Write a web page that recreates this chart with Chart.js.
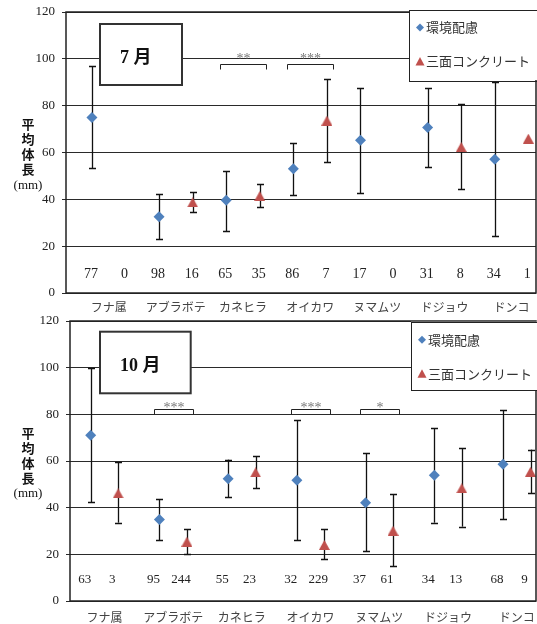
<!DOCTYPE html>
<html><head><meta charset="utf-8">
<script src="https://cdn.jsdelivr.net/npm/chart.js@4"></script>
<style>
html,body{margin:0;padding:0;background:#fff;}
#wrap{position:relative;width:537px;height:624px;overflow:hidden;background:#fff;}
canvas{position:absolute;left:0;}
#c1{top:0}
#c2{top:312px}
</style></head><body>
<div id="wrap"><canvas id="c1" width="537" height="312"></canvas><canvas id="c2" width="537" height="312"></canvas></div>
<script>
// ---------- data ----------
const CATEGORIES = ['フナ属','アブラボテ','カネヒラ','オイカワ','ヌマムツ','ドジョウ','ドンコ'];
const SERIES = ['環境配慮','三面コンクリート'];
const Y_TICKS = [0,20,40,60,80,100,120];
const Y_LABEL = ['平','均','体','長'];
const Y_UNIT = '(mm)';

const JUL_TITLE = '7 月';
const JUL_ENV_MEAN = [75.0, 32.6, 39.6, 53.1, 65.2, 70.7, 57.1];
const JUL_ENV_HIGH = [96.8, 42.3, 52.1, 64.2, 87.7, 87.7, 90.2];
const JUL_ENV_LOW  = [53.5, 23.2, 26.6, 41.7, 42.6, 53.9, 24.3];
const JUL_ENV_N    = [77, 98, 65, 86, 17, 31, 34];
const JUL_CON_MEAN = [null, 38.7, 41.4, 73.6, null, 62.3, 65.9];
const JUL_CON_HIGH = [null, 43.0, 46.6, 91.5, null, 80.7, null];
const JUL_CON_LOW  = [null, 34.5, 36.6, 55.9, null, 44.3, null];
const JUL_CON_N    = [0, 16, 35, 7, 0, 8, 1];
const JUL_SIG_CAT   = [2, 3];
const JUL_SIG_MARK  = ['**', '***'];
const JUL_SIG_LEVEL = [97.6, 97.6];

const OCT_TITLE = '10 月';
const OCT_ENV_MEAN = [71.0, 34.9, 52.4, 51.7, 42.1, 53.9, 58.6];
const OCT_ENV_HIGH = [100.0, 43.6, 60.6, 77.7, 63.3, 74.3, 81.7];
const OCT_ENV_LOW  = [42.3, 26.3, 44.4, 26.0, 21.4, 33.6, 35.0];
const OCT_ENV_N    = [63, 95, 55, 32, 37, 34, 68];
const OCT_CON_MEAN = [46.1, 25.4, 55.1, 24.0, 30.1, 48.3, 55.4];
const OCT_CON_HIGH = [59.4, 31.0, 62.1, 30.7, 45.7, 65.4, 64.9];
const OCT_CON_LOW  = [33.6, 20.1, 48.4, 17.9, 14.9, 31.9, 46.4];
const OCT_CON_N    = [3, 244, 23, 229, 61, 13, 9];
const OCT_SIG_CAT   = [1, 3, 4];
const OCT_SIG_MARK  = ['***', '***', '*'];
const OCT_SIG_LEVEL = [82.3, 82.3, 82.3];

// ---------- style ----------
const BLUE = '#4F81BD', RED = '#C0504D';
const SERIF = '"Liberation Serif", "Times New Roman", serif';
const JP = '"Noto Sans CJK JP", sans-serif';

function triangleImage(w, h, color){
  const c = document.createElement('canvas'); c.width = w; c.height = h;
  const g = c.getContext('2d'); g.fillStyle = color;
  g.beginPath(); g.moveTo(w/2, 0); g.lineTo(w, h); g.lineTo(0, h); g.closePath(); g.fill();
  return c;
}

function series(mean, hi, lo, off){
  return CATEGORIES.map((c,i)=>({x: i + off, y: mean[i], hi: hi[i], lo: lo[i]})).filter(p => p.y != null);
}

const plotPlugin = {
  id: 'plotExtras',
  beforeDatasetsDraw(chart){
    const {ctx, scales:{y}} = chart;
    ctx.save();
    ctx.strokeStyle = '#111'; ctx.lineWidth = 1.3;
    chart.data.datasets.forEach((ds, di) => {
      const meta = chart.getDatasetMeta(di);
      meta.data.forEach((el, i) => {
        const p = ds.data[i];
        if (p.hi == null || p.lo == null) return;
        const x = Math.round(el.x) + 0.5;
        const yh = y.getPixelForValue(p.hi), yl = y.getPixelForValue(p.lo);
        ctx.beginPath();
        ctx.moveTo(x, yh); ctx.lineTo(x, yl);
        ctx.moveTo(x - 3.5, Math.round(yh) + 0.5); ctx.lineTo(x + 3.5, Math.round(yh) + 0.5);
        ctx.moveTo(x - 3.5, Math.round(yl) + 0.5); ctx.lineTo(x + 3.5, Math.round(yl) + 0.5);
        ctx.stroke();
      });
    });
    ctx.restore();
  },
  afterDraw(chart){
    const {ctx, chartArea:a, scales:{x, y}} = chart;
    const o = chart.options.plugins.plotExtras;
    ctx.save();
    // plot border
    ctx.strokeStyle = '#222'; ctx.lineWidth = 1.5;
    ctx.strokeRect(a.left, a.top, a.right - a.left, a.bottom - a.top);

    // sample counts
    ctx.fillStyle = '#222'; ctx.font = o.countSize + 'px ' + SERIF;
    ctx.textAlign = 'center'; ctx.textBaseline = 'middle';
    o.counts.forEach((arr, si) => {
      arr.forEach((n, i) => {
        ctx.fillText(String(n), x.getPixelForValue(i + o.offsets[si]) + o.countDx, y.getPixelForValue(o.countY));
      });
    });

    // significance brackets
    o.sigCat.forEach((c, k) => {
      const xl = Math.round(x.getPixelForValue(c - o.sigHalf)) + 0.5;
      const xr = Math.round(x.getPixelForValue(c + o.sigHalf)) + 0.5;
      const yy = Math.round(y.getPixelForValue(o.sigLevel[k])) + 0.5;
      ctx.strokeStyle = '#222'; ctx.lineWidth = 1;
      ctx.beginPath();
      ctx.moveTo(xl, yy + o.legLen); ctx.lineTo(xl, yy); ctx.lineTo(xr, yy); ctx.lineTo(xr, yy + o.legLen);
      ctx.stroke();
      ctx.fillStyle = '#777'; ctx.font = '14px ' + SERIF;
      ctx.textAlign = 'center'; ctx.textBaseline = 'alphabetic';
      ctx.fillText(o.sigMark[k], (xl + xr) / 2, yy - o.starGap + 7);
    });

    // y-axis title (stacked)
    const cy = (a.top + a.bottom) / 2 + 2;
    const pitch = 15;
    const startY = cy - pitch * 2;
    ctx.fillStyle = '#111'; ctx.textAlign = 'center'; ctx.textBaseline = 'middle';
    ctx.font = 'bold 13px ' + JP;
    Y_LABEL.forEach((ch, i) => ctx.fillText(ch, 28, startY + i * pitch));
    ctx.font = '13px ' + SERIF;
    ctx.fillText(Y_UNIT, 28, startY + 4 * pitch + 1);

    // title box
    const tb = o.titleBox;
    ctx.fillStyle = '#fff'; ctx.fillRect(tb[0], tb[1], tb[2] - tb[0], tb[3] - tb[1]);
    ctx.strokeStyle = '#333'; ctx.lineWidth = 2;
    ctx.strokeRect(tb[0], tb[1], tb[2] - tb[0], tb[3] - tb[1]);
    ctx.fillStyle = '#111'; ctx.font = 'bold 18px ' + SERIF + ', ' + JP;
    ctx.textAlign = 'left'; ctx.textBaseline = 'middle';
    ctx.fillText(o.title, tb[0] + 20, (tb[1] + tb[3]) / 2 + 3.5);

    // legend box
    const lb = o.legendBox;
    ctx.fillStyle = '#fff'; ctx.fillRect(lb[0], lb[1], 600 - lb[0], lb[2] - lb[1]);
    ctx.strokeStyle = '#222'; ctx.lineWidth = 1;
    ctx.strokeRect(Math.round(lb[0]) + 0.5, Math.round(lb[1]) + 0.5, 600, Math.round(lb[2] - lb[1]));
    const rows = [lb[1] + 18, lb[1] + 52];
    chart.data.datasets.forEach((ds, di) => {
      const mx = lb[0] + 11, my = rows[di];
      ctx.fillStyle = ds.backgroundColor;
      ctx.beginPath();
      if (di === 0) { ctx.moveTo(mx, my - 4); ctx.lineTo(mx + 4, my); ctx.lineTo(mx, my + 4); ctx.lineTo(mx - 4, my); }
      else { ctx.moveTo(mx, my - 4.5); ctx.lineTo(mx + 4.5, my + 4); ctx.lineTo(mx - 4.5, my + 4); }
      ctx.closePath(); ctx.fill();
      ctx.fillStyle = '#333'; ctx.font = '13px ' + JP;
      ctx.textAlign = 'left'; ctx.textBaseline = 'middle';
      ctx.fillText(ds.label, mx + 6, my);
    });
    ctx.restore();
  }
};

function makeChart(id, d, g){
  const H = 312;
  return new Chart(document.getElementById(id), {
    type: 'scatter',
    data: {
      datasets: [
        { label: SERIES[0], data: series(d.envMean, d.envHigh, d.envLow, -g.off),
          backgroundColor: BLUE, borderColor: BLUE, pointStyle: 'rectRot', pointRadius: 5.5, pointBorderWidth: 0 },
        { label: SERIES[1], data: series(d.conMean, d.conHigh, d.conLow, g.off),
          backgroundColor: RED, borderColor: RED, pointStyle: triangleImage(11, 10, RED), pointRadius: 6, pointBorderWidth: 0 }
      ]
    },
    options: {
      responsive: false, maintainAspectRatio: false, animation: false, events: [],
      layout: { autoPadding: false, padding: { left: 0, right: 537 - g.right, top: g.top, bottom: 0 } },
      scales: {
        x: {
          type: 'linear', min: g.xmin, max: g.xmax,
          afterBuildTicks: s => { s.ticks = CATEGORIES.map((_, i) => ({ value: i })); },
          ticks: { callback: v => CATEGORIES[v], autoSkip: false, maxRotation: 0, minRotation: 0,
                   padding: g.labelPad, color: '#444', font: { family: JP, size: 12 } },
          grid: { display: false, drawTicks: false }, border: { display: false },
          afterFit: s => { s.height = H - g.bottom; s.paddingLeft = 0; s.paddingRight = 0; }
        },
        y: {
          min: 0, max: 120,
          afterBuildTicks: s => { s.ticks = Y_TICKS.map(v => ({ value: v })); },
          ticks: { color: '#222', padding: 7, font: { family: SERIF, size: 13 } },
          grid: { color: '#2a2a2a', lineWidth: 1, tickLength: 4, drawTicks: true }, border: { display: false },
          afterFit: s => { s.width = g.left; s.paddingTop = 0; s.paddingBottom = 0; }
        }
      },
      plugins: {
        legend: { display: false }, tooltip: { enabled: false },
        plotExtras: {
          counts: [d.envN, d.conN], offsets: [-g.off, g.off], countY: g.countY, countDx: g.countDx, countSize: g.countSize,
          sigCat: d.sigCat, sigMark: d.sigMark, sigLevel: d.sigLevel, sigHalf: g.sigHalf,
          legLen: 5, starGap: g.starGap, title: d.title, titleBox: g.titleBox, legendBox: g.legendBox
        }
      }
    },
    plugins: [plotPlugin]
  });
}

makeChart('c1', {
  title: JUL_TITLE, envMean: JUL_ENV_MEAN, envHigh: JUL_ENV_HIGH, envLow: JUL_ENV_LOW, envN: JUL_ENV_N,
  conMean: JUL_CON_MEAN, conHigh: JUL_CON_HIGH, conLow: JUL_CON_LOW, conN: JUL_CON_N,
  sigCat: JUL_SIG_CAT, sigMark: JUL_SIG_MARK, sigLevel: JUL_SIG_LEVEL
}, { left: 66, right: 536, top: 12, bottom: 293, xmin: -0.636, xmax: 6.364, off: 0.25, sigHalf: 0.34,
     countY: 8, countDx: -1, countSize: 14, starGap: 8.5, labelPad: 7, titleBox: [100, 24, 182, 85], legendBox: [409, 9.5, 80] });

makeChart('c2', {
  title: OCT_TITLE, envMean: OCT_ENV_MEAN, envHigh: OCT_ENV_HIGH, envLow: OCT_ENV_LOW, envN: OCT_ENV_N,
  conMean: OCT_CON_MEAN, conHigh: OCT_CON_HIGH, conLow: OCT_CON_LOW, conN: OCT_CON_N,
  sigCat: OCT_SIG_CAT, sigMark: OCT_SIG_MARK, sigLevel: OCT_SIG_LEVEL
}, { left: 70, right: 536, top: 9, bottom: 289, xmin: -0.501, xmax: 6.28, off: 0.2, sigHalf: 0.285,
     countY: 9.3, countDx: -6, countSize: 13, starGap: 4.5, labelPad: 9, titleBox: [100, 19.7, 190.7, 81.3], legendBox: [411, 9.7, 78] });
</script>
</body></html>
